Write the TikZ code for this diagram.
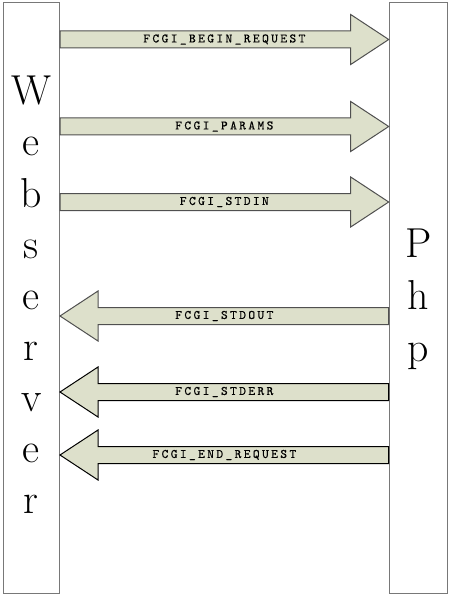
\documentclass[tikz,border=0pt]{standalone}
\usepackage{fontspec}
\usetikzlibrary{calc}
\newfontfamily\lblfont{lmmono10-regular.otf}[LetterSpace=18,FakeBold=0.3]
\definecolor{arrowfill}{RGB}{221,224,203}
\definecolor{boxline}{RGB}{120,120,120}
\definecolor{arrline}{RGB}{80,80,80}
\newcommand\fcgiright[4]{% #1 name, #2 y, #3 label, #4 line colour
  \coordinate (#1s) at (web.east |- 0,#2);
  \coordinate (#1t) at (php.west |- 0,#2);
  \draw[fcgiarrow, draw=#4] ($(#1s)+(0,-8.5)$) -- ($(#1t)+(-38,-8.5)$) -- ($(#1t)+(-38,-25)$)
     -- (#1t) -- ($(#1t)+(-38,25)$) -- ($(#1t)+(-38,8.5)$) -- ($(#1s)+(0,8.5)$) -- cycle;
  \node[fcgilabel] (#1l) at ($(#1s)!0.5!(#1t)$) {#3};}
\newcommand\fcgileft[4]{% #1 name, #2 y, #3 label, #4 line colour
  \coordinate (#1s) at (php.west |- 0,#2);
  \coordinate (#1t) at (web.east |- 0,#2);
  \draw[fcgiarrow, draw=#4] ($(#1s)+(0,-8.5)$) -- ($(#1t)+(38,-8.5)$) -- ($(#1t)+(38,-25)$)
     -- (#1t) -- ($(#1t)+(38,25)$) -- ($(#1t)+(38,8.5)$) -- ($(#1s)+(0,8.5)$) -- cycle;
  \node[fcgilabel] (#1l) at ($(#1s)!0.5!(#1t)$) {#3};}
\begin{document}
\begin{tikzpicture}[x=1bp,y=-1bp,
  box/.style={draw=boxline, line width=1.3bp, fill=white, inner sep=0pt, anchor=north west},
  bigletter/.style={font=\fontsize{42}{42}\selectfont, inner sep=0pt, anchor=base},
  fcgiarrow/.style={fill=arrowfill, line width=1bp, line join=miter},
  fcgilabel/.style={font=\lblfont\fontsize{13}{14}\selectfont, inner sep=0pt},
]
\useasboundingbox (0,0) rectangle (449,596);
\node[box, minimum width=56bp, minimum height=591bp] (web) at (2.7,1.7) {};
\node[box, minimum width=58bp, minimum height=591bp] (php) at (388.7,1.7) {};
\foreach \c [count=\i] in {W,e,b,s,e,r,v,e,r} {
  \pgfmathsetmacro\yy{105+51*(\i-1)}
  \node[bigletter] (web\i) at (web.north |- 0,\yy) {\c};
}
\foreach \c/\yy [count=\i] in {P/257,h/309,p/361} {
  \node[bigletter] (php\i) at (php.north |- 0,\yy) {\c};
}
\fcgiright{a1}{39.5}{FCGI\_BEGIN\_REQUEST}{arrline}
\fcgiright{a2}{126.5}{FCGI\_PARAMS}{arrline}
\fcgiright{a3}{202}{FCGI\_STDIN}{arrline}
\fcgileft{a4}{316}{FCGI\_STDOUT}{arrline}
\fcgileft{a5}{392}{FCGI\_STDERR}{black}
\fcgileft{a6}{455}{FCGI\_END\_REQUEST}{black}
\end{tikzpicture}
\end{document}
